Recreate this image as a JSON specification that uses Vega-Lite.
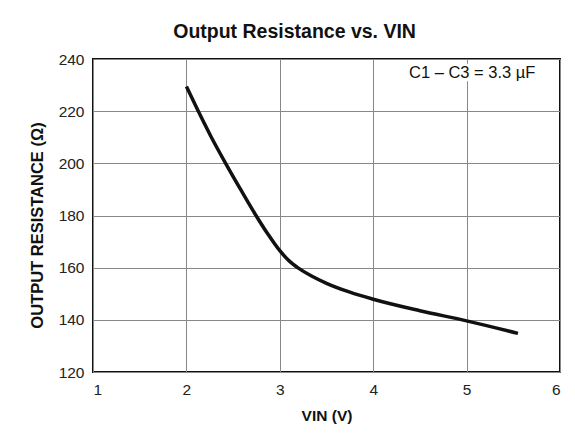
{
  "$schema": "https://vega.github.io/schema/vega-lite/v6.json",
  "width": 467,
  "height": 313,
  "autosize": "none",
  "padding": {"left": 93, "top": 59, "right": 15, "bottom": 68},
  "background": "white",
  "config": {
    "font": "Liberation Sans",
    "view": {"stroke": "#111", "strokeWidth": 2},
    "axis": {
      "labelFont": "Liberation Sans",
      "labelFontSize": 15.5,
      "labelColor": "#222",
      "titleFont": "Liberation Sans",
      "titleFontWeight": "bold",
      "titleColor": "#111",
      "gridColor": "#888",
      "gridWidth": 1,
      "gridOpacity": 1,
      "ticks": false,
      "domain": false
    }
  },
  "title": {
    "text": "Output Resistance vs. VIN",
    "font": "Liberation Sans",
    "fontSize": 19.5,
    "fontWeight": "bold",
    "color": "#111",
    "anchor": "middle",
    "frame": "bounds",
    "offset": 10
  },
  "datasets": {
    "curve": [
      {"vin": 2.0, "r": 229.5},
      {"vin": 2.12, "r": 220.5},
      {"vin": 2.26, "r": 210.5},
      {"vin": 2.42, "r": 200},
      {"vin": 2.58, "r": 190},
      {"vin": 2.74, "r": 180.3},
      {"vin": 2.87, "r": 173},
      {"vin": 3.0, "r": 166.5},
      {"vin": 3.1, "r": 162.6},
      {"vin": 3.2, "r": 159.8},
      {"vin": 3.35, "r": 156.6},
      {"vin": 3.5, "r": 154},
      {"vin": 3.75, "r": 150.6},
      {"vin": 4.0, "r": 147.9},
      {"vin": 4.5, "r": 143.5},
      {"vin": 5.0, "r": 139.6},
      {"vin": 5.55, "r": 134.8}
    ],
    "note": [
      {"x": 5.06, "y": 234.8, "x1": 4.35, "x2": 5.8, "y1": 231.5, "y2": 238.2, "label": "C1 – C3 = 3.3 µF"}
    ]
  },
  "layer": [
    {
      "data": {"name": "note"},
      "mark": {"type": "rect", "fill": "white", "stroke": null},
      "encoding": {
        "x": {"field": "x1", "type": "quantitative", "scale": {"domain": [1, 6], "nice": false}},
        "x2": {"field": "x2"},
        "y": {"field": "y1", "type": "quantitative", "scale": {"domain": [120, 240], "nice": false}},
        "y2": {"field": "y2"}
      }
    },
    {
      "data": {"name": "note"},
      "mark": {"type": "text", "font": "Liberation Sans", "fontSize": 16.5, "color": "#111", "align": "center", "baseline": "middle"},
      "encoding": {
        "x": {"field": "x", "type": "quantitative"},
        "y": {"field": "y", "type": "quantitative"},
        "text": {"field": "label"}
      }
    },
    {
      "data": {"name": "curve"},
      "mark": {"type": "line", "color": "#111", "strokeWidth": 3.5, "interpolate": "monotone"},
      "encoding": {
        "x": {
          "field": "vin", "type": "quantitative",
          "scale": {"domain": [1, 6], "nice": false},
          "axis": {"values": [1, 2, 3, 4, 5, 6], "format": "d", "title": "VIN (V)", "titleFontSize": 15.5, "labelPadding": 10, "titlePadding": 11}
        },
        "y": {
          "field": "r", "type": "quantitative",
          "scale": {"domain": [120, 240], "nice": false},
          "axis": {"values": [120, 140, 160, 180, 200, 220, 240], "format": "d", "title": "OUTPUT RESISTANCE (Ω)", "titleFontSize": 16.5, "titleY": 166, "labelPadding": 9, "titlePadding": 13}
        }
      }
    }
  ]
}
